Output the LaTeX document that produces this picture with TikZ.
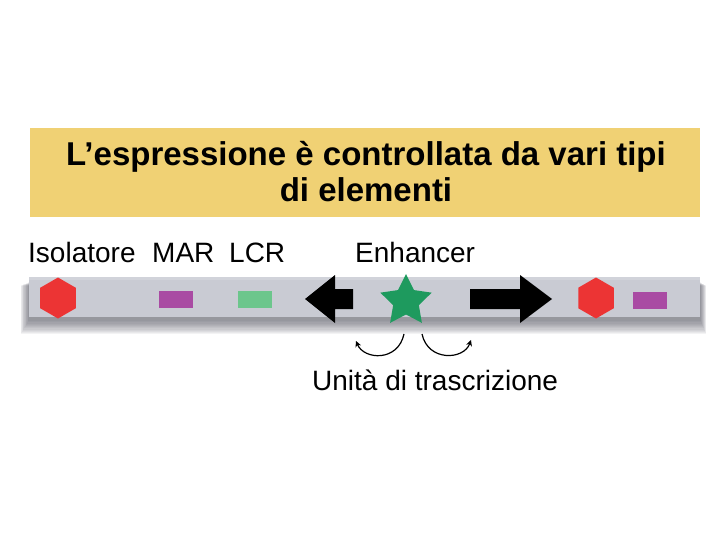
\documentclass[tikz,border=0pt]{standalone}
\usepackage{fontspec}
\setmainfont{Liberation Sans}
\usetikzlibrary{shapes.geometric,arrows.meta}
\definecolor{titlebg}{HTML}{F0D174}
\definecolor{bargray}{HTML}{C9CBD3}
\definecolor{shadowgray}{HTML}{3A3D4E}
\definecolor{hexred}{HTML}{EC3434}
\definecolor{marpurple}{HTML}{A94BA3}
\definecolor{lcrgreen}{HTML}{6CC68C}
\definecolor{stargreen}{HTML}{1E9A5E}
\tikzset{
  lbl/.style={font=\fontsize{28}{30}\selectfont, inner sep=0pt},
  hexa/.style={regular polygon, regular polygon sides=6, shape border rotate=30,
    fill=hexred, minimum size=41pt, inner sep=0pt},
  mark box/.style={minimum width=34pt, minimum height=17pt, inner sep=0pt},
  loop arrow/.style={line width=1.2pt, -{Stealth[length=6pt,width=6pt]}}
}
\begin{document}
\begin{tikzpicture}[x=1pt,y=-1pt]
        \useasboundingbox[fill=white] (0,0) rectangle (720,540);
        % title box
        \fill[titlebg] (30,128) rectangle (700,217);
        \node[font=\bfseries\fontsize{33}{36}\selectfont, align=center] (title) at (366,172)
            {L’espressione è controllata da vari tipi\\di elementi};
        % labels
        \node[lbl, anchor=base west] (iso) at (28,262) {Isolatore};
        \node[lbl, anchor=base west] (mar) at (152,262) {MAR};
        \node[lbl, anchor=base west] (lcr) at (229,262) {LCR};
        \node[lbl, anchor=base west] (enh) at (355,262) {Enhancer};
        % DNA bar with soft shadow
        \foreach \i in {1,...,12}
            \fill[shadowgray, opacity=0.06] (29-0.7*\i,282+0.3*\i) rectangle (700+0.5*\i,320+1.2*\i);
        \fill[bargray] (29,277) rectangle (700,320);
        \fill[bargray!85!white] (29,277) rectangle (700,280);
        \fill[bargray!75!black] (29,317) rectangle (700,320);
        \node[hexa] (hexL) at (58,298) {};
        \node[mark box, fill=marpurple] (marL) at (176,299) {};
        \node[mark box, fill=lcrgreen] (lcrL) at (255,299) {};
        \fill (305,299) -- (335,275) -- (335,289) -- (353,289) -- (353,309) -- (335,309) -- (335,323) -- cycle;
        \node[star, star points=5, star point ratio=2.0, fill=stargreen, minimum size=54pt, inner sep=0pt] (enhstar) at (406,301) {};
        \fill (470,289) -- (520,289) -- (520,275) -- (552,299) -- (520,323) -- (520,309) -- (470,309) -- cycle;
        \node[hexa] (hexR) at (596,298) {};
        \node[mark box, fill=marpurple] (marR) at (650,300) {};
        % transcription arrows
        \coordinate (loopA) at (404,334);
        \coordinate (loopB) at (356,341);
        \coordinate (loopC) at (422,334);
        \coordinate (loopD) at (471,340);
        \draw[loop arrow] (loopA) .. controls (398,362) and (364,360) .. (loopB);
        \draw[loop arrow] (loopC) .. controls (428,362) and (464,360) .. (loopD);
        \node[lbl, anchor=base west] (unit) at (312,390) {Unità di trascrizione};
\end{tikzpicture}
\end{document}
